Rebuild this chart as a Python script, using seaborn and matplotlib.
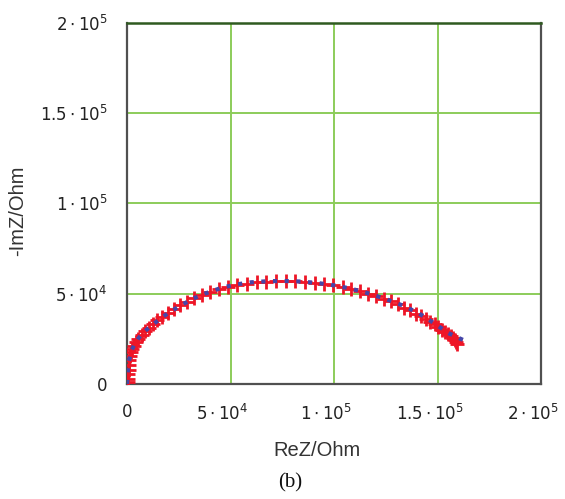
import matplotlib
matplotlib.use("Agg")
import matplotlib.pyplot as plt
import matplotlib.transforms as mtransforms
import seaborn as sns
import pandas as pd

# measured impedance (red +)
re_meas = [300, 500, 700, 800, 900, 1100, 1400, 1800, 2500, 3300, 4300, 5500, 7000, 8600,
           10400, 12300, 14500, 16900, 19600, 22500, 25600, 28900, 32400, 36200, 40200, 44400,
           48800, 53300, 57900, 62500, 67200, 71900, 76600, 81300, 86000, 90600, 95100, 99600,
           104000, 108300, 112400, 116400, 120200, 123900, 127400, 130700, 133800, 136700,
           139400, 141900, 144200, 146400, 148400, 150300, 152000, 153500, 154900, 156100,
           157200, 158100, 158800, 159400]
im_meas = [1000, 3000, 5500, 8000, 10500, 13000, 15500, 17500, 19500, 21300, 23000, 25000,
           27200, 29300, 31200, 33200, 35200, 37300, 39400, 41500, 43500, 45500, 47400, 49300,
           51000, 52500, 53700, 54800, 55600, 56200, 56600, 56800, 56900, 56800, 56500, 56000,
           55300, 54600, 53900, 52700, 51300, 49900, 48600, 47300, 46000, 44200, 42300, 40700,
           39000, 37500, 36000, 34500, 33000, 31400, 30000, 28800, 27600, 26400, 25300, 24400,
           23300, 22200]

# fitted curve (blue dotted)
re_fit = [0, 200, 500, 1000, 2000, 3500, 5500, 8000, 11000, 15000, 20000, 26000, 32000, 38000,
          45000, 52000, 60000, 68000, 76000, 84000, 92000, 100000, 108000, 116000, 124000,
          132000, 140000, 148000, 155000, 160000, 164500]
im_fit = [0, 4000, 8500, 13000, 18000, 21800, 25300, 28600, 31600, 35200, 39400, 43500, 47300,
          50200, 53000, 55000, 56300, 56900, 57000, 56700, 55900, 54600, 52800, 50300, 47400,
          43900, 39700, 33800, 28200, 25500, 23200]

ticks = [0, 50000, 100000, 150000, 200000]
tick_labels = [r"$0$", r"$5\cdot10^{4}$", r"$1\cdot10^{5}$", r"$1.5\cdot10^{5}$", r"$2\cdot10^{5}$"]

sns.set_theme(style="white")
plt.rcParams["mathtext.fontset"] = "dejavusans"

fig = plt.figure(figsize=(5.65, 4.99), dpi=100)
ax = fig.add_axes([0.2248, 0.2305, 0.7336, 0.724])

fit_df = pd.DataFrame({"re": re_fit, "im": im_fit})
meas_df = pd.DataFrame({"re": re_meas, "im": im_meas})

sns.scatterplot(data=meas_df, x="re", y="im", marker="+", s=110, color="#ee1526",
                linewidth=2.0, ax=ax, zorder=3)
sns.lineplot(data=fit_df, x="re", y="im", sort=False, color="#4646a8", linestyle=(0, (1, 1.8)),
             linewidth=3.0, ax=ax, zorder=4)

ax.set_xlim(0, 200000)
ax.set_ylim(0, 200000)
ax.set_xticks(ticks)
ax.set_yticks(ticks)
ax.set_xticklabels(tick_labels)
ax.set_yticklabels(tick_labels)
ax.tick_params(axis="both", labelsize=12, colors="#222222", length=0, pad=14)
shift = mtransforms.ScaledTranslation(-8 / 100, 0, fig.dpi_scale_trans)
for lbl in ax.get_xticklabels()[1:]:
    lbl.set_transform(lbl.get_transform() + shift)

ax.grid(True, color="#8ccc5a", linewidth=1.4)
ax.set_axisbelow(True)
for side in ["left", "bottom", "right"]:
    ax.spines[side].set_color("#505050")
    ax.spines[side].set_linewidth(1.6)
ax.spines["top"].set_color("#2f5a20")
ax.spines["top"].set_linewidth(1.8)

ax.set_xlabel("ReZ/Ohm", fontsize=14.5, family="Liberation Sans", color="#333333")
ax.set_ylabel("-ImZ/Ohm", fontsize=14.5, family="Liberation Sans", color="#333333")
ax.xaxis.set_label_coords(0.459, -0.158)
ax.yaxis.set_label_coords(-0.241, 0.48)

fig.text(0.513, 0.032, "(b)", fontsize=15, family="Liberation Serif", ha="center", va="center",
         color="#111111")

fig.savefig("out.png", dpi=100)
